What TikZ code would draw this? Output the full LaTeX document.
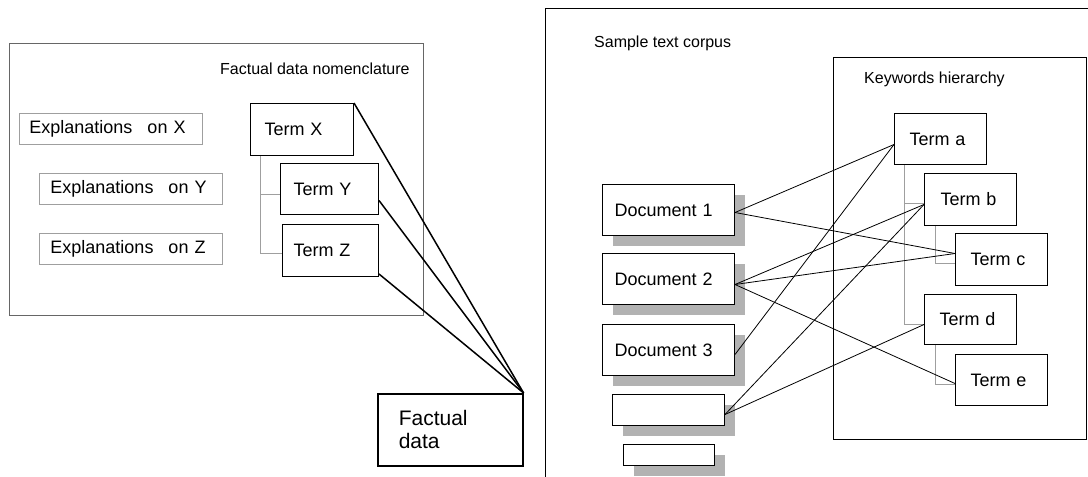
\documentclass[tikz,border=0pt]{standalone}
\usepackage{fontspec}
\setmainfont{Liberation Sans}
\usetikzlibrary{shadows}
\begin{document}
\begin{tikzpicture}[x=1pt,y=-1pt,
  box/.style={draw, line width=1pt, fill=white, align=left, inner ysep=0pt,
    anchor=north west, font=\fontsize{18}{21}\selectfont},
  expl/.style={box, draw=gray!75, line width=0.9pt},
  shad/.style={box, drop shadow={shadow xshift=10pt, shadow yshift=-10pt, fill=black!30, opacity=1}},
  container/.style={draw, anchor=north west, inner sep=0pt},
  label/.style={anchor=west, inner sep=0pt, font=\fontsize{16}{19}\selectfont},
  tree/.style={draw=gray!75, line width=0.9pt},
  thick link/.style={line width=1.5pt},
  thin link/.style={line width=0.8pt}]
\useasboundingbox (0,0) rectangle (1088,477);
\clip (0,0) rectangle (1088,477);

% ---------- left part ----------
\node[container, draw=black!60, line width=1.3pt, minimum width=414pt, minimum height=272pt] (nomen) at (9,43) {};
\node[label] (nomenlbl) at (220,69) {Factual data nomenclature};

\node[expl, inner xsep=10pt, text width=163pt, minimum height=31pt] (ex) at (19,113) {Explanations\hspace{15pt}on X};
\node[expl, inner xsep=11pt, text width=161pt, minimum height=31pt] (ey) at (39,173) {Explanations\hspace{15pt}on Y};
\node[expl, inner xsep=11pt, text width=161pt, minimum height=31pt] (ez) at (39,233) {Explanations\hspace{15pt}on Z};

\node[box, inner xsep=14pt, text width=75pt, minimum height=52pt] (tx) at (250,103) {Term X};
\node[box, inner xsep=13pt, text width=72pt, minimum height=51pt] (ty) at (280,163) {Term Y};
\node[box, inner xsep=11pt, text width=74pt, minimum height=52pt] (tz) at (282,224) {Term Z};

\draw[tree] ([xshift=10pt]tx.south west) |- ([yshift=-5.5pt]ty.west);
\draw[tree] ([xshift=10pt]tx.south west) |- ([yshift=-3pt]tz.west);

\node[box, line width=1.6pt, inner xsep=21pt, text width=103pt, minimum height=72pt,
  font=\fontsize{21}{23}\selectfont] (fd) at (377,393) {Factual\\data};

\draw[thick link] (tx.north east) -- (fd.north east);
\draw[thick link] ([yshift=-11.5pt]ty.east) -- (fd.north east);
\draw[thick link] ([yshift=3pt]tz.south east) -- (fd.north east);

% ---------- right part ----------
\node[container, line width=1.3pt, minimum width=560pt, minimum height=490pt] (corpus) at (545,8) {};
\node[label] (corpuslbl) at (594,43) {Sample text corpus};

\node[container, line width=1.1pt, minimum width=253pt, minimum height=382pt] (kw) at (833,57) {};
\node[label] (kwlbl) at (864,79) {Keywords hierarchy};

\node[shad, inner xsep=12pt, text width=108pt, minimum height=51pt] (d1) at (602,184) {Document 1};
\node[shad, inner xsep=12pt, text width=108pt, minimum height=51pt] (d2) at (602,253) {Document 2};
\node[shad, inner xsep=12pt, text width=108pt, minimum height=51pt] (d3) at (602,324) {Document 3};
\node[shad, inner xsep=0pt, text width=112pt, minimum height=31pt] (d4) at (612,394) {};
\node[shad, inner xsep=0pt, text width=91pt, minimum height=21pt] (d5) at (623,444) {};

\node[box, inner xsep=15pt, text width=62pt, minimum height=51pt] (ta) at (894,113) {Term a};
\node[box, inner xsep=16pt, text width=60pt, minimum height=52pt] (tb) at (924,173) {Term b};
\node[box, inner xsep=15pt, text width=62pt, minimum height=52pt] (tc) at (955,233) {Term c};
\node[box, inner xsep=15pt, text width=62pt, minimum height=50pt] (td) at (924,294) {Term d};
\node[box, inner xsep=15pt, text width=62pt, minimum height=51pt] (te) at (955,354) {Term e};

\draw[tree] ([xshift=10pt]ta.south west) |- ([yshift=-4pt]tb.west);
\draw[tree] ([xshift=10pt]ta.south west) |- ([yshift=-5pt]td.west);
\draw[tree] ([xshift=11pt]tb.south west) |- ([yshift=-4pt]tc.west);
\draw[tree] ([xshift=11pt]td.south west) |- ([yshift=-4.5pt]te.west);

\draw[thin link] ([yshift=-2.5pt]d1.east) -- ([yshift=-5.5pt]ta.west);
\draw[thin link] ([yshift=-2.5pt]d1.east) -- ([yshift=6pt]tc.west);
\draw[thin link] ([yshift=-5.5pt]d2.east) -- ([yshift=-5pt]tb.west);
\draw[thin link] ([yshift=-5.5pt]d2.east) -- ([yshift=6pt]tc.west);
\draw[thin link] ([yshift=-5.5pt]d2.east) -- ([yshift=-3.5pt]te.west);
\draw[thin link] ([yshift=-4.5pt]d3.east) -- ([yshift=-5.5pt]ta.west);
\draw[thin link] ([yshift=-4.5pt]d4.east) -- ([yshift=-5pt]tb.west);
\draw[thin link] ([yshift=-4.5pt]d4.east) -- ([yshift=-5pt]td.west);
\end{tikzpicture}
\end{document}
